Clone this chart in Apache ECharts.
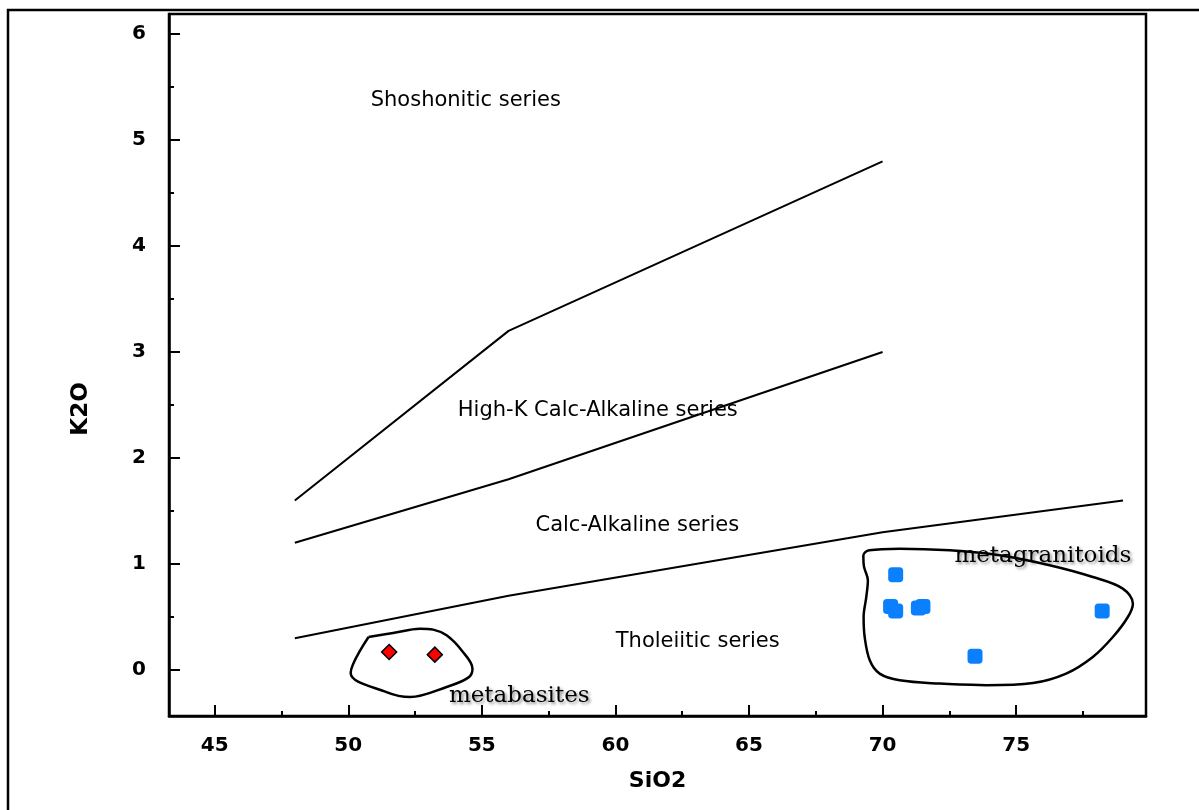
<!DOCTYPE html>
<html>
<head>
<meta charset="utf-8">
<script src="https://cdn.jsdelivr.net/npm/echarts@6/dist/echarts.min.js"></script>
<style>
html,body{margin:0;padding:0;background:#fff;}
#chart{width:1199px;height:810px;}
</style>
</head>
<body>
<div id="chart"></div>
<script>
// Axis ticks
const siO2MajorTicks = [45, 50, 55, 60, 65, 70, 75];
const siO2MinorTicks = [47.5, 52.5, 57.5, 62.5, 67.5, 72.5, 77.5];
const k2oMajorTicks = [0, 1, 2, 3, 4, 5, 6];
const k2oMinorTicks = [0.5, 1.5, 2.5, 3.5, 4.5, 5.5];

// Field boundaries (SiO2, K2O)
const shoshoniticBoundary = [[48, 1.6], [56, 3.2], [70, 4.8]];
const highKBoundary = [[48, 1.2], [56, 1.8], [70, 3.0]];
const calcAlkalineBoundary = [[48, 0.3], [56, 0.7], [70, 1.3], [79, 1.6]];

// Samples
const metabasites = [[51.53, 0.17], [53.24, 0.145]];
const metagranitoids = [[70.49, 0.90], [70.30, 0.60], [70.49, 0.557], [71.34, 0.585], [71.51, 0.60], [73.46, 0.13], [78.22, 0.557]];

// Group envelopes
const metabasiteEnvelope = [[50.76, 0.311], [51.68, 0.349], [52.68, 0.39], [53.18, 0.381], [53.68, 0.327], [54.24, 0.186], [54.65, 0.013], [54.49, -0.072], [53.68, -0.16], [52.31, -0.255], [51.43, -0.208], [50.09, -0.028], [50.76, 0.311]];
const metagranitoidEnvelope = [[73.88, -0.144], [72.13, -0.128], [70.64, -0.097], [69.89, -0.034], [69.52, 0.092], [69.33, 0.311], [69.29, 0.5], [69.39, 0.689], [69.45, 0.846], [69.3, 0.98], [69.28, 1.08], [69.5, 1.13], [70.64, 1.145], [72.51, 1.129], [74.38, 1.082], [76.25, 0.988], [77.87, 0.877], [78.99, 0.768], [79.37, 0.626], [79.18, 0.5], [78.62, 0.311], [77.87, 0.123], [76.87, -0.034], [75.63, -0.123], [73.88, -0.144]];

// Field labels [text, SiO2, K2O]
const fieldLabels = [
  ['Shoshonitic series', 54.40, 5.37],
  ['High-K Calc-Alkaline series', 59.34, 2.45],
  ['Calc-Alkaline series', 60.82, 1.365],
  ['Tholeiitic series', 63.08, 0.27]
];
const groupLabels = [
  ['metabasites', 56.4, -0.25],
  ['metagranitoids', 76.0, 1.08]
];

const xMin = 43.29, xMax = 79.86, yMin = -0.434, yMax = 6.19;
const sans = '"DejaVu Sans", sans-serif';

const chart = echarts.init(document.getElementById('chart'), null, {renderer: 'canvas'});

function boundarySeries(data) {
  return {type: 'line', data: data, symbol: 'none', silent: true,
    lineStyle: {color: '#000', width: 2}, z: 3};
}
function envelopeSeries(data) {
  return {type: 'line', data: data, symbol: 'none', silent: true, smooth: 0.35,
    lineStyle: {color: '#000', width: 2.5}, z: 3};
}

const option = {
  animation: false,
  backgroundColor: '#fff',
  graphic: [{
    type: 'rect', silent: true, z: 0,
    shape: {x: 8, y: 10, width: 1400, height: 1000},
    style: {fill: 'none', stroke: '#000', lineWidth: 2.5}
  }],
  grid: {left: 169, right: 53, top: 14, bottom: 94, show: true,
    borderColor: '#000', borderWidth: 2.5, backgroundColor: 'transparent'},
  xAxis: [{
    type: 'value', min: xMin, max: xMax, position: 'bottom',
    name: 'SiO2', nameLocation: 'middle', nameGap: 54,
    nameTextStyle: {fontFamily: sans, fontWeight: 'bold', fontSize: 22, color: '#000'},
    axisLine: {show: true, onZero: false, lineStyle: {color: '#000', width: 2.5}},
    axisTick: {show: true, inside: true, length: 11, customValues: siO2MajorTicks, lineStyle: {color: '#000', width: 2}},
    axisLabel: {show: true, customValues: siO2MajorTicks, margin: 20, fontFamily: sans, fontWeight: 'bold', fontSize: 20, color: '#000'},
    splitLine: {show: false}
  }, {
    type: 'value', min: xMin, max: xMax, position: 'bottom', offset: 0,
    axisLine: {show: false, onZero: false},
    axisTick: {show: true, inside: true, length: 5, customValues: siO2MinorTicks, lineStyle: {color: '#000', width: 2}},
    axisLabel: {show: false},
    splitLine: {show: false}
  }],
  yAxis: [{
    type: 'value', min: yMin, max: yMax, position: 'left',
    name: 'K2O', nameLocation: 'middle', nameGap: 76,
    nameTextStyle: {fontFamily: sans, fontWeight: 'bold', fontSize: 23, color: '#000', padding: [0, 88, 0, 0]},
    axisLine: {show: true, onZero: false, lineStyle: {color: '#000', width: 2.5}},
    axisTick: {show: true, inside: true, length: 11, customValues: k2oMajorTicks, lineStyle: {color: '#000', width: 2}},
    axisLabel: {show: true, customValues: k2oMajorTicks, margin: 23, fontFamily: sans, fontWeight: 'bold', fontSize: 20, color: '#000'},
    splitLine: {show: false}
  }, {
    type: 'value', min: yMin, max: yMax, position: 'left', offset: 0,
    axisLine: {show: false, onZero: false},
    axisTick: {show: true, inside: true, length: 5, customValues: k2oMinorTicks, lineStyle: {color: '#000', width: 2}},
    axisLabel: {show: false},
    splitLine: {show: false}
  }],
  series: [
    boundarySeries(shoshoniticBoundary),
    boundarySeries(highKBoundary),
    boundarySeries(calcAlkalineBoundary),
    envelopeSeries(metabasiteEnvelope),
    envelopeSeries(metagranitoidEnvelope),
    {
      type: 'scatter', data: metabasites, symbol: 'diamond', symbolSize: 15, z: 5,
      itemStyle: {color: '#ff0000', borderColor: '#000', borderWidth: 1.5, opacity: 1}
    },
    {
      type: 'scatter', data: metagranitoids, symbol: 'roundRect', symbolSize: 15, z: 5,
      itemStyle: {color: '#0a80ff', opacity: 1}
    },
    {
      type: 'scatter', silent: true, symbolSize: 0, z: 6,
      itemStyle: {opacity: 1},
      data: fieldLabels.map(l => ({value: [l[1], l[2]], name: l[0]})),
      label: {show: true, position: 'inside', formatter: p => p.name,
        fontFamily: sans, fontSize: 21, color: '#000'}
    },
    {
      type: 'scatter', silent: true, symbolSize: 0, z: 6,
      itemStyle: {opacity: 1},
      data: groupLabels.map(l => ({value: [l[1], l[2]], name: l[0]})),
      label: {show: true, position: 'inside', formatter: p => p.name,
        fontFamily: '"DejaVu Serif", serif', fontSize: 23, color: '#000',
        textShadowColor: 'rgba(0,0,0,0.45)', textShadowBlur: 3, textShadowOffsetX: 2, textShadowOffsetY: 2}
    }
  ]
};
chart.setOption(option);
</script>
</body>
</html>
